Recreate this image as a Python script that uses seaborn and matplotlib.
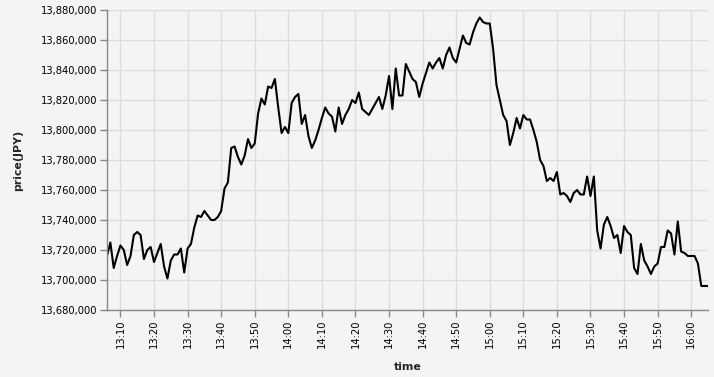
import matplotlib
matplotlib.use("Agg")
import matplotlib.pyplot as plt
import matplotlib.dates as mdates
from matplotlib.ticker import FuncFormatter, MultipleLocator
import seaborn as sns
import pandas as pd

start_time = "2024-01-01 13:06"
price = [
    13716000, 13725000, 13708000, 13716000, 13723000, 13720000, 13710000, 13716000, 13730000, 13732000,
    13730000, 13714000, 13720000, 13722000, 13712000, 13718000, 13724000, 13709000, 13701000, 13713000,
    13717000, 13717000, 13721000, 13705000, 13721000, 13724000, 13735000, 13743000, 13742000, 13746000,
    13743000, 13740000, 13740000, 13742000, 13746000, 13761000, 13765000, 13788000, 13789000, 13782000,
    13777000, 13783000, 13794000, 13788000, 13791000, 13811000, 13821000, 13817000, 13829000, 13828000,
    13834000, 13815000, 13798000, 13802000, 13798000, 13818000, 13822000, 13824000, 13804000, 13810000,
    13796000, 13788000, 13793000, 13800000, 13808000, 13815000, 13811000, 13809000, 13799000, 13815000,
    13804000, 13810000, 13814000, 13820000, 13818000, 13825000, 13814000, 13812000, 13810000, 13814000,
    13818000, 13822000, 13814000, 13823000, 13836000, 13814000, 13841000, 13823000, 13823000, 13844000,
    13839000, 13834000, 13832000, 13822000, 13831000, 13838000, 13845000, 13841000, 13845000, 13848000,
    13841000, 13850000, 13855000, 13848000, 13845000, 13854000, 13863000, 13858000, 13857000, 13865000,
    13871000, 13875000, 13872000, 13871000, 13871000, 13854000, 13830000, 13820000, 13810000, 13806000,
    13790000, 13798000, 13808000, 13801000, 13810000, 13807000, 13807000, 13800000, 13792000, 13780000,
    13776000, 13766000, 13768000, 13766000, 13772000, 13757000, 13758000, 13756000, 13752000, 13758000,
    13760000, 13757000, 13757000, 13769000, 13756000, 13769000, 13733000, 13721000, 13737000, 13742000,
    13736000, 13728000, 13730000, 13718000, 13736000, 13732000, 13730000, 13708000, 13704000, 13724000,
    13713000, 13709000, 13704000, 13709000, 13711000, 13722000, 13722000, 13733000, 13731000, 13717000,
    13739000, 13719000, 13718000, 13716000, 13716000, 13716000, 13711000, 13696000, 13696000, 13696000,
]
y_min, y_max, y_step = 13680000, 13880000, 20000

time = pd.date_range(start=start_time, periods=len(price), freq="1min")
df = pd.DataFrame({"time": time, "price": price})

bg = "#f4f4f4"
sns.set_theme(style="whitegrid", rc={
    "figure.facecolor": bg, "axes.facecolor": bg, "grid.color": "#dddddd",
    "axes.edgecolor": "#888888", "grid.linewidth": 1.0,
})
plt.rcParams["font.family"] = ["DejaVu Sans"]

fig = plt.figure(figsize=(7.14, 3.77), dpi=100)
ax = fig.add_axes([107/714, 1-310/377, 601/714, 300/377])

sns.lineplot(data=df, x="time", y="price", color="black", linewidth=1.5, ax=ax)

ax.set_xlim(time[0], time[-1])
ax.set_ylim(y_min, y_max)
ax.yaxis.set_major_locator(MultipleLocator(y_step))
ax.yaxis.set_major_formatter(FuncFormatter(lambda v, p: f"{int(round(v)):,}"))
ax.xaxis.set_major_locator(mdates.MinuteLocator(byminute=range(0, 60, 10)))
ax.xaxis.set_major_formatter(mdates.DateFormatter("%H:%M"))

for s in ["top", "right"]:
    ax.spines[s].set_visible(False)
for s in ["left", "bottom"]:
    ax.spines[s].set_color("#888888")
    ax.spines[s].set_linewidth(1.0)

ax.tick_params(axis="both", which="major", length=5, width=1, color="#888888",
               labelsize=7.2, labelcolor="black", pad=2, direction="out")
ax.tick_params(axis="x", bottom=True, labelrotation=90)
ax.tick_params(axis="y", left=True)
ax.grid(True, color="#dddddd", linewidth=1.0)

ax.set_xlabel("time", fontsize=7.9, fontweight="bold")
ax.set_ylabel("price(JPY)", fontsize=7.9, fontweight="bold")
ax.xaxis.set_label_coords(0.5, -0.172)
ax.yaxis.set_label_coords(-0.14, 0.5)

fig.savefig("out.png", dpi=100, facecolor=bg)
